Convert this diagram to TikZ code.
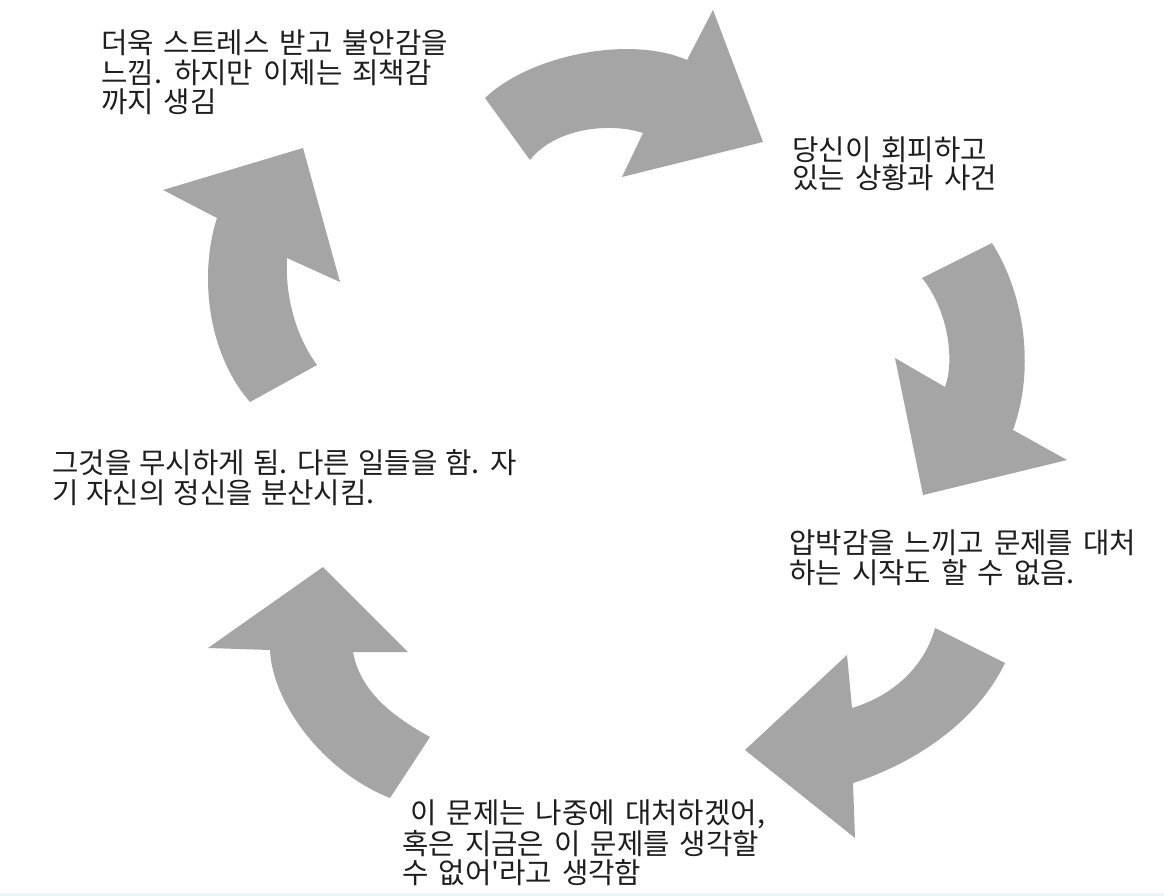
\documentclass[tikz,border=0pt]{standalone}
\usepackage{fontspec}
\newfontfamily\krfont{Noto Sans CJK KR}
\definecolor{arrowgray}{RGB}{165,165,165}
\definecolor{textdark}{RGB}{30,30,30}
\definecolor{bandblue}{RGB}{236,245,250}
\begin{document}
\begin{tikzpicture}[x=1pt,y=-1pt,
  cyclearrow/.style={fill=arrowgray, draw=none},
  steptext/.style={anchor=base west, inner sep=0pt, align=left, text=textdark,
    font=\krfont\fontsize{28.7}{29.5}\selectfont}]
\useasboundingbox (0,0) rectangle (1164,896);
\fill[white] (0,0) rectangle (1164,896);
\fill[bandblue] (0,893) rectangle (1164,896);

% top arrow, pointing right
\fill[cyclearrow] (485,98) .. controls (530,55) and (630,35) .. (687,60)
  -- (713,10) -- (763,142) -- (622,177) -- (643,133)
  .. controls (610,122) and (555,128) .. (530,160) -- cycle;

% right arrow, pointing down
\fill[cyclearrow] (922,278) -- (992,243)
  .. controls (1025,295) and (1035,370) .. (1013,430)
  -- (1067,460) -- (923,495) -- (895,358) -- (945,387)
  .. controls (955,360) and (948,310) .. (922,278) -- cycle;

% lower right arrow, pointing left
\fill[cyclearrow] (935,628) -- (1005,663)
  .. controls (975,725) and (910,765) .. (853,783)
  -- (855,838) -- (745,750) -- (847,655) -- (852,708)
  .. controls (895,695) and (925,665) .. (935,628) -- cycle;

% lower left arrow, pointing up
\fill[cyclearrow] (390,798) -- (430,737)
  .. controls (390,715) and (360,690) .. (353,652)
  -- (408,652) -- (323,567) -- (208,648) -- (270,650)
  .. controls (272,700) and (320,770) .. (390,798) -- cycle;

% left arrow, pointing up and right
\fill[cyclearrow] (250,402) -- (317,365)
  .. controls (295,335) and (285,295) .. (287,258)
  -- (340,282) -- (303,148) -- (163,190) -- (217,218)
  .. controls (200,270) and (205,350) .. (250,402) -- cycle;

% captions of the cycle, placed by the baseline of their last line
\spaceskip=10pt\relax
\node[steptext] (guilt) at (101,113) {더욱 스트레스 받고 불안감을\\느낌. 하지만 이제는 죄책감\\까지 생김};
\node[steptext, font=\krfont\fontsize{28.7}{28}\selectfont] (avoid) at (792,189) {당신이 회피하고\\있는 상황과 사건};
\node[steptext, font=\krfont\fontsize{28.7}{30}\selectfont] (pressure) at (789,583) {압박감을 느끼고 문제를 대처\\하는 시작도 할 수 없음.};
\node[steptext, font=\krfont\fontsize{28.7}{29}\selectfont] (later) at (402,883) {\hspace{8pt}이 문제는 나중에 대처하겠어,\\혹은 지금은 이 문제를 생각할\\수 없어'라고 생각함};
\begin{scope}
\spaceskip=8pt\relax
\node[steptext, font=\krfont\fontsize{28.7}{30}\selectfont] (ignore) at (52,503) {그것을 무시하게 됨. 다른 일들을 함. 자\\기 자신의 정신을 분산시킴.};
\end{scope}
\end{tikzpicture}
\end{document}
